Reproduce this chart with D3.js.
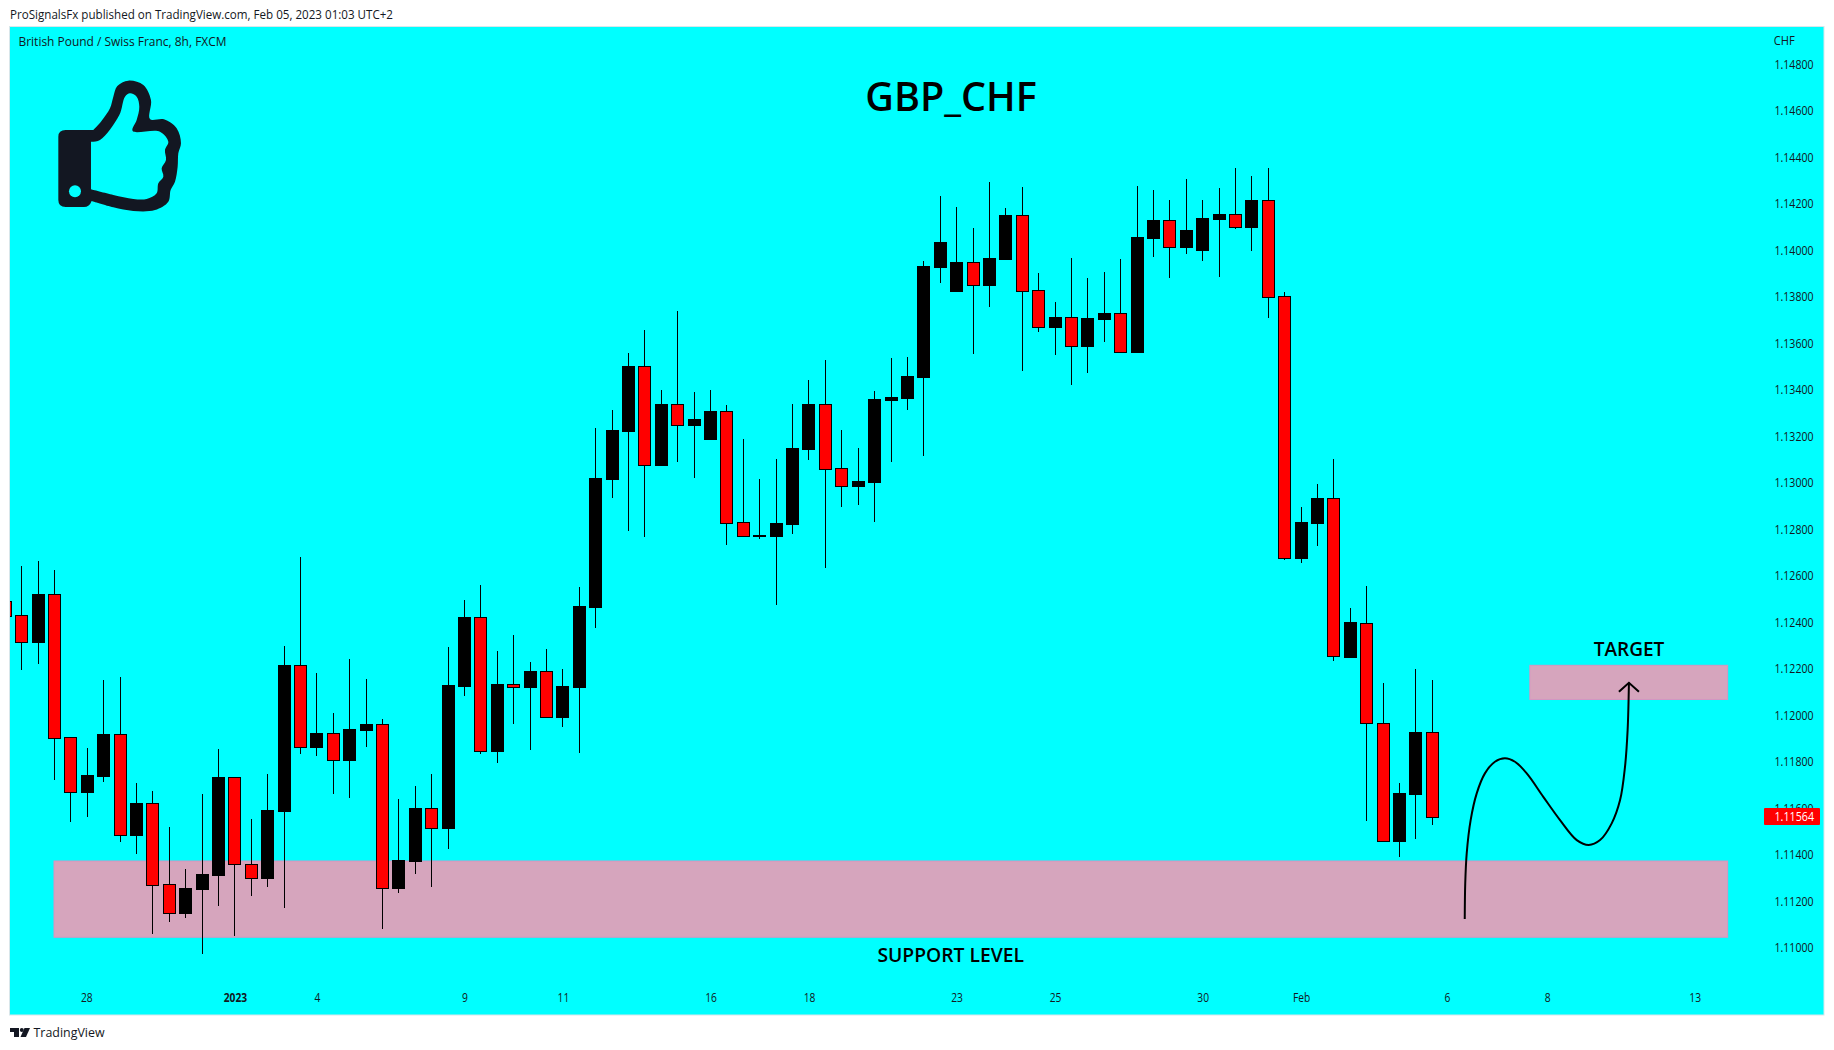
<!DOCTYPE html>
<html><head><meta charset="utf-8">
<script src="https://cdn.jsdelivr.net/npm/d3@7/dist/d3.min.js"></script>
<style>
html,body{margin:0;padding:0;background:#fff;overflow:hidden}
svg{display:block}
text{font-family:"Open Sans",sans-serif;fill:#131722}
.ax text{font-size:12.5px;fill:#131722;font-family:"Open Sans",sans-serif}
</style></head><body>
<div id="chart"></div>
<script>
const firstIndex = -1;
const opens = [1.12490,1.12430,1.12315,1.12522,1.11905,1.11670,1.11738,1.11918,1.11485,1.11621,1.11272,1.11149,1.11252,1.11312,1.11733,1.11358,1.11300,1.11588,1.12215,1.11863,1.11922,1.11807,1.11936,1.11961,1.11257,1.11373,1.11599,1.11515,1.12126,1.12421,1.11846,1.12133,1.12121,1.12189,1.11992,1.12121,1.12466,1.13017,1.13223,1.13501,1.13077,1.13338,1.13249,1.13189,1.13308,1.12830,1.12771,1.12771,1.12823,1.13146,1.13338,1.13062,1.12986,1.13004,1.13356,1.13365,1.13455,1.13929,1.13825,1.13949,1.13851,1.13963,1.14151,1.13828,1.13670,1.13712,1.13589,1.13705,1.13729,1.13563,1.14053,1.14129,1.14015,1.14002,1.14135,1.14155,1.14101,1.14216,1.13802,1.12676,1.12827,1.12933,1.12251,1.12399,1.11965,1.11461,1.11662,1.11927];
const highs = [1.12600,1.12642,1.12664,1.12625,1.11905,1.11859,1.12152,1.12164,1.11708,1.11674,1.11519,1.11338,1.11661,1.11855,1.11733,1.11553,1.11747,1.12298,1.12681,1.12182,1.12010,1.12242,1.12156,1.11984,1.11639,1.11695,1.11747,1.12294,1.12496,1.12560,1.12276,1.12345,1.12229,1.12285,1.12199,1.12552,1.13236,1.13313,1.13559,1.13658,1.13399,1.13739,1.13391,1.13399,1.13335,1.13189,1.13017,1.13103,1.13339,1.13442,1.13529,1.13227,1.13150,1.13395,1.13537,1.13541,1.13954,1.14234,1.14187,1.14096,1.14294,1.14183,1.14273,1.13903,1.13778,1.13967,1.13881,1.13907,1.13963,1.14277,1.14260,1.14217,1.14307,1.14217,1.14269,1.14355,1.14320,1.14355,1.13822,1.12896,1.12995,1.13102,1.12462,1.12556,1.12139,1.11708,1.12198,1.12152];
const lows = [1.12300,1.12195,1.12220,1.11721,1.11541,1.11562,1.11713,1.11454,1.11403,1.11059,1.11110,1.11127,1.10973,1.11179,1.11050,1.11222,1.11261,1.11170,1.11833,1.11825,1.11661,1.11644,1.11863,1.11080,1.11235,1.11317,1.11261,1.11424,1.12083,1.11833,1.11794,1.11962,1.11850,1.11988,1.11949,1.11837,1.12375,1.12935,1.12793,1.12767,1.13077,1.13090,1.13021,1.13184,1.12732,1.12771,1.12758,1.12474,1.12780,1.13098,1.12634,1.12896,1.12905,1.12831,1.13090,1.13313,1.13115,1.13860,1.13825,1.13554,1.13757,1.13959,1.13481,1.13649,1.13550,1.13421,1.13473,1.13606,1.13564,1.13559,1.13972,1.13881,1.13985,1.13954,1.13886,1.14092,1.13997,1.13709,1.12668,1.12654,1.12729,1.12233,1.12251,1.11545,1.11456,1.11390,1.11467,1.11528];
const closes = [1.12428,1.12316,1.12522,1.11903,1.11671,1.11743,1.11919,1.11486,1.11622,1.11271,1.11150,1.11257,1.11317,1.11734,1.11358,1.11301,1.11592,1.12216,1.11865,1.11923,1.11809,1.11941,1.11962,1.11258,1.11377,1.11601,1.11516,1.12130,1.12423,1.11847,1.12134,1.12123,1.12190,1.11994,1.12126,1.12470,1.13021,1.13227,1.13503,1.13078,1.13339,1.13250,1.13275,1.13309,1.12829,1.12771,1.12775,1.12827,1.13150,1.13339,1.13061,1.12988,1.13008,1.13361,1.13369,1.13460,1.13933,1.14036,1.13950,1.13853,1.13967,1.14152,1.13827,1.13672,1.13713,1.13590,1.13709,1.13731,1.13564,1.14058,1.14131,1.14016,1.14088,1.14139,1.14157,1.14102,1.14217,1.13801,1.12677,1.12831,1.12934,1.12253,1.12401,1.11965,1.11461,1.11665,1.11928,1.11564];

const priceTicks = [1.148,1.146,1.144,1.142,1.140,1.138,1.136,1.134,1.132,1.130,1.128,1.126,1.124,1.122,1.120,1.118,1.116,1.114,1.112,1.110];
const dateTickIndex = [3.94,13,18,27,33,42,48,57,63,72,78,86.9,93,102];
const dateTickLabels = ["28","2023","4","9","11","16","18","23","25","30","Feb","6","8","13"];
const lastPrice = 1.11564;

const supportZone = {from:1.97,to:104.01,hi:1.11373,lo:1.11045};
const targetZone = {from:91.95,to:104.01,hi:1.12215,lo:1.12068};
const pathIndex = [87.98,88.01,88.10,88.34,88.71,89.21,89.82,90.43,91.04,91.76,92.77,93.79,94.81,95.54,96.23,96.94,97.45,97.75,97.91,97.99];
const pathPrice = [1.11123,1.11277,1.11406,1.11549,1.11664,1.11750,1.11800,1.11815,1.11800,1.11750,1.11649,1.11549,1.11463,1.11442,1.11463,1.11535,1.11635,1.11778,1.11936,1.12140];
const headIndex = [97.38,97.99,98.60];
const headPrice = [1.12101,1.12140,1.12101];

const W=1834,H=1050;
const plot={l:10,t:27,r:1823.5,b:1014.5};
const x=d3.scaleLinear().domain([0,102]).range([21.7,1694.7]);
const y=d3.scaleLinear().domain([1.148,1.110]).range([64.5,947.7]);

const svg=d3.select("#chart").append("svg").attr("width",W).attr("height",H);
svg.append("rect").attr("x",plot.l-.5).attr("y",plot.t-.5).attr("width",plot.r-plot.l+1).attr("height",plot.b-plot.t+1)
  .attr("fill","#00ffff").attr("stroke","#d8e6ea").attr("stroke-width",1);
svg.append("defs").append("clipPath").attr("id","c").append("rect")
  .attr("x",plot.l).attr("y",plot.t).attr("width",plot.r-plot.l).attr("height",plot.b-plot.t);

const zoneG=svg.append("g");
[supportZone,targetZone].forEach(z=>{
  zoneG.append("rect").attr("x",x(z.from)).attr("width",x(z.to)-x(z.from))
    .attr("y",y(z.hi)).attr("height",y(z.lo)-y(z.hi))
    .attr("fill","#d6a5bd").attr("stroke","#d795c0").attr("stroke-width",1);
});

const candles=opens.map((o,k)=>({i:k+firstIndex,o,h:highs[k],l:lows[k],c:closes[k]}));
const cg=svg.append("g").attr("clip-path","url(#c)").attr("shape-rendering","crispEdges");
cg.selectAll("rect.w").data(candles).join("rect").attr("class","w")
  .attr("x",d=>Math.floor(x(d.i))).attr("width",1)
  .attr("y",d=>y(d.h)).attr("height",d=>y(d.l)-y(d.h)).attr("fill","#000");
cg.selectAll("rect.b").data(candles).join("rect").attr("class","b")
  .attr("x",d=>Math.floor(x(d.i))-5.5).attr("width",12)
  .attr("y",d=>Math.round(y(Math.max(d.o,d.c)))+.5)
  .attr("height",d=>Math.max(1,Math.round(y(Math.min(d.o,d.c)))-Math.round(y(Math.max(d.o,d.c)))))
  .attr("fill",d=>d.c>=d.o?"#000":"#ff0000").attr("stroke","#000").attr("stroke-width",1);

function squeeze(sel,k){
  sel.each(function(){
    this.setAttribute("lengthAdjust","spacingAndGlyphs");
    this.setAttribute("textLength",(this.getComputedTextLength()*k).toFixed(1));
  });
}
const axR=d3.axisRight(y).tickValues(priceTicks).tickFormat(d3.format(".5f")).tickSize(0).tickPadding(0);
const gy=svg.append("g").attr("class","ax").attr("transform","translate(1774.5,0)").call(axR);
gy.select(".domain").remove();
gy.selectAll("text").attr("textLength",39).attr("lengthAdjust","spacingAndGlyphs");

const axB=d3.axisBottom(x).tickValues(dateTickIndex).tickFormat((d,k)=>dateTickLabels[k]).tickSize(0).tickPadding(0);
const gx=svg.append("g").attr("class","ax").attr("transform","translate(0,993)").call(axB);
gx.select(".domain").remove();
gx.selectAll("text").style("font-weight",(d,k)=>dateTickLabels[k]==="2023"?"700":"400");
squeeze(gx.selectAll("text"),0.82);

const line=d3.line().x(d=>x(d[0])).y(d=>y(d[1]));
svg.append("path").attr("d",line.curve(d3.curveCatmullRom.alpha(.5))(pathIndex.map((v,k)=>[v,pathPrice[k]])))
  .attr("fill","none").attr("stroke","#000").attr("stroke-width",2);
svg.append("path").attr("d",line.curve(d3.curveLinear)(headIndex.map((v,k)=>[v,headPrice[k]])))
  .attr("fill","none").attr("stroke","#000").attr("stroke-width",2);

/* last price label */
svg.append("rect").attr("x",1764).attr("y",y(lastPrice)-8.5).attr("width",56).attr("height",17).attr("rx",1).attr("fill","#ff0000");
svg.append("text").attr("x",1774.5).attr("y",y(lastPrice)+.5).attr("dy",".35em").text(d3.format(".5f")(lastPrice))
  .attr("textLength",39.5).attr("lengthAdjust","spacingAndGlyphs").style("fill","#fff").style("font-size","12.5px");
svg.append("text").attr("x",1773.7).attr("y",45).text("CHF").attr("textLength",21).attr("lengthAdjust","spacingAndGlyphs").style("font-size","12.5px");

/* annotations */
svg.append("text").attr("x",951).attr("y",111).attr("text-anchor","middle").text("GBP_CHF")
  .style("font-size","39.5px").style("font-weight","600").style("fill","#000");
svg.append("text").attr("x",1629).attr("y",655.7).attr("text-anchor","middle").text("TARGET")
  .style("font-size","19px").style("font-weight","600").style("fill","#000");
svg.append("text").attr("x",950.7).attr("y",961.7).attr("text-anchor","middle").text("SUPPORT LEVEL")
  .style("font-size","19.3px").style("font-weight","600").style("fill","#000");

svg.append("text").attr("x",10).attr("y",19).text("ProSignalsFx published on TradingView.com, Feb 05, 2023 01:03 UTC+2")
  .attr("textLength",383).attr("lengthAdjust","spacingAndGlyphs").style("font-size","12px");
svg.append("text").attr("x",18.5).attr("y",46).text("British Pound / Swiss Franc, 8h, FXCM")
  .attr("textLength",208).attr("lengthAdjust","spacingAndGlyphs").style("font-size","12px");

/* thumbs-up icon */
const ic=svg.append("g").attr("transform","scale(0.3333)");
const outer=[[280,390],[305,362],[330,325],[340,290],[352,258],[385,242],[430,255],[453,300],[450,357],[492,358],[530,385],[543,430],[535,460],[533,500],[525,545],[512,570],[505,605],[465,630],[400,633],[340,622],[275,603]];
const inner=[[273,425],[300,420],[358,345],[375,290],[390,280],[410,290],[418,320],[410,360],[398,393],[480,395],[505,425],[495,450],[498,480],[485,505],[490,530],[475,550],[470,580],[440,597],[400,597],[340,585],[273,568]];
const clOpen=d3.line().curve(d3.curveCatmullRom);
const hand=clOpen(outer)+"Q268,622 250,621L197,621Q175,621 175,600L175,410Q175,390 197,390Z "+clOpen(inner)+"Z";
ic.append("path").attr("d",hand).attr("fill","#131722").attr("fill-rule","evenodd");
ic.append("circle").attr("cx",225).attr("cy",574).attr("r",18).attr("fill","#00ffff");

/* footer */
const logo=svg.append("g").attr("fill","#131722");
logo.append("path").attr("d","M10,1028H19V1037H14V1032H10Z");
logo.append("circle").attr("cx",21.8).attr("cy",1030).attr("r",2);
logo.append("path").attr("d","M24.5,1028H30L26,1037H20.5Z");
svg.append("text").attr("x",33.5).attr("y",1036.5).text("TradingView")
  .attr("textLength",71).attr("lengthAdjust","spacingAndGlyphs").style("font-size","13px");
</script>
</body></html>
